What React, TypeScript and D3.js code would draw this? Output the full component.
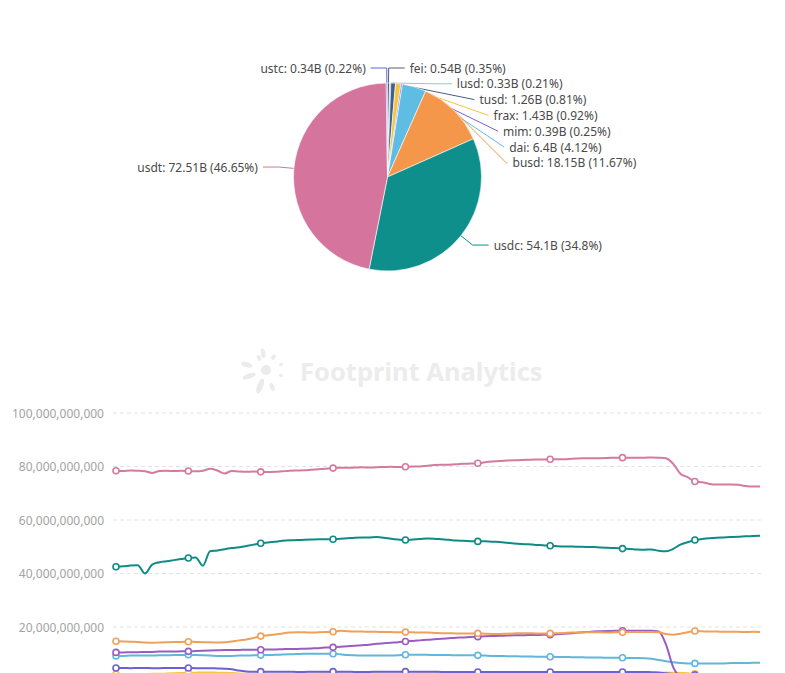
import React from 'react'
import * as d3 from 'd3'

// pie: share of each stablecoin (billions), in drawing order from 12 o'clock
const pieNames = ['fei', 'lusd', 'tusd', 'frax', 'mim', 'dai', 'busd', 'usdc', 'usdt', 'ustc']
const pieValues = [0.54, 0.33, 1.26, 1.43, 0.39, 6.4, 18.15, 54.1, 72.51, 0.34]
const piePercents = ['0.35', '0.21', '0.81', '0.92', '0.25', '4.12', '11.67', '34.8', '46.65', '0.22']
const pieColors = ['#565c6b', '#9cc3c8', '#41608d', '#f4c542', '#7463d8', '#5fbce3', '#f5974b', '#0f8f8b', '#d5759d', '#5566e0']

// line chart: market cap per day, billions
const usdtLine = [
  78.4, 78.3, 78.5, 78.4, 78.2, 77.6, 78.3, 78.4, 78.3, 78.4,
  78.3, 78.2, 78.4, 79.2, 78.5, 77.4, 78.3, 78.1, 78.0, 78.1,
  78.0, 77.9, 78.0, 78.2, 78.4, 78.5, 78.6, 78.8, 79.0, 79.2,
  79.4, 79.5, 79.5, 79.6, 79.7, 79.6, 79.7, 79.8, 79.9, 79.8,
  79.9, 80.0, 80.0, 80.3, 80.6, 80.7, 80.7, 80.8, 81.0, 81.1,
  81.2, 81.6, 81.9, 82.1, 82.2, 82.3, 82.4, 82.5, 82.6, 82.6,
  82.7, 82.7, 82.7, 82.9, 83.0, 83.1, 83.1, 83.1, 83.2, 83.3,
  83.3, 83.3, 83.3, 83.3, 83.4, 83.3, 83.1, 81.0, 77.3, 76.0,
  74.4, 74.1, 73.5, 73.3, 73.3, 73.3, 73.2, 72.7, 72.5, 72.5,
]
const usdcLine = [
  42.5, 42.7, 43.0, 43.1, 40.0, 43.3, 44.2, 44.6, 45.0, 45.4,
  45.8, 46.0, 42.9, 48.3, 48.6, 49.1, 49.5, 49.8, 50.3, 50.8,
  51.3, 51.6, 51.9, 52.2, 52.4, 52.5, 52.6, 52.7, 52.8, 52.8,
  52.8, 53.0, 53.2, 53.4, 53.5, 53.5, 53.6, 53.4, 53.0, 52.7,
  52.5, 52.7, 52.9, 53.1, 53.0, 52.8, 52.6, 52.3, 52.2, 52.1,
  52.0, 52.1, 51.9, 51.8, 51.5, 51.2, 51.0, 50.9, 50.7, 50.6,
  50.4, 50.2, 50.1, 50.1, 50.0, 49.9, 49.9, 49.7, 49.6, 49.5,
  49.3, 49.2, 49.0, 48.9, 49.0, 48.5, 48.3, 49.2, 50.8, 51.7,
  52.5, 52.9, 53.2, 53.4, 53.5, 53.6, 53.7, 53.9, 54.0, 54.1,
]
const busdLine = [
  14.7, 14.6, 14.5, 14.4, 14.2, 14.1, 14.2, 14.3, 14.4, 14.4,
  14.5, 14.4, 14.3, 14.3, 14.2, 14.3, 14.6, 15.0, 15.3, 15.9,
  16.6, 16.9, 17.2, 17.6, 17.9, 18.0, 18.0, 17.9, 18.0, 18.1,
  18.2, 18.6, 18.4, 18.3, 18.3, 18.2, 18.2, 18.1, 18.1, 18.0,
  18.1, 18.0, 17.9, 17.9, 17.8, 17.7, 17.7, 17.6, 17.6, 17.6,
  17.6, 17.5, 17.4, 17.4, 17.5, 17.6, 17.7, 17.7, 17.6, 17.6,
  17.6, 17.7, 17.8, 17.9, 17.9, 18.0, 18.0, 18.0, 17.9, 18.0,
  18.0, 18.1, 18.1, 18.1, 18.1, 18.0, 17.4, 17.1, 17.5, 18.0,
  18.5, 18.4, 18.3, 18.3, 18.2, 18.2, 18.2, 18.1, 18.2, 18.15,
]
const ustcLine = [
  10.5, 10.5, 10.6, 10.6, 10.7, 10.7, 10.8, 10.8, 10.8, 10.9,
  10.9, 11.0, 11.1, 11.2, 11.3, 11.4, 11.4, 11.4, 11.5, 11.5,
  11.5, 11.6, 11.6, 11.7, 11.8, 11.8, 11.9, 12.0, 12.1, 12.3,
  12.4, 12.6, 12.8, 13.0, 13.2, 13.4, 13.7, 13.9, 14.1, 14.3,
  14.6, 14.8, 15.0, 15.2, 15.4, 15.6, 15.8, 16.0, 16.1, 16.3,
  16.4, 16.5, 16.6, 16.7, 16.8, 16.9, 16.9, 17.0, 17.0, 17.1,
  17.1, 17.3, 17.5, 17.7, 17.9, 18.1, 18.3, 18.4, 18.5, 18.6,
  18.6, 18.6, 18.6, 18.6, 18.6, 18.3, 13.5, 5.0, 1.5, 0.8,
  0.6, 0.5, 0.45, 0.4, 0.4, 0.38, 0.36, 0.35, 0.34, 0.34,
]
const daiLine = [
  9.2, 9.2, 9.3, 9.3, 9.3, 9.3, 9.4, 9.4, 9.5, 9.5,
  9.6, 9.5, 9.4, 9.3, 9.2, 9.2, 9.2, 9.3, 9.3, 9.4,
  9.5, 9.5, 9.6, 9.7, 9.8, 9.9, 10.0, 10.0, 10.0, 10.0,
  10.0, 9.8, 9.5, 9.4, 9.3, 9.3, 9.3, 9.3, 9.3, 9.4,
  9.6, 9.6, 9.6, 9.6, 9.5, 9.5, 9.5, 9.4, 9.4, 9.4,
  9.4, 9.3, 9.2, 9.2, 9.1, 9.1, 9.0, 9.0, 8.9, 8.9,
  8.9, 8.8, 8.8, 8.7, 8.7, 8.6, 8.6, 8.6, 8.5, 8.5,
  8.5, 8.4, 8.4, 8.3, 8.1, 7.7, 7.2, 6.8, 6.5, 6.4,
  6.4, 6.4, 6.4, 6.4, 6.4, 6.5, 6.5, 6.5, 6.6, 6.6,
]
const mimLine = [
  4.7, 4.7, 4.6, 4.7, 4.7, 4.6, 4.6, 4.7, 4.7, 4.7,
  4.7, 4.6, 4.6, 4.6, 4.5, 4.4, 4.2, 3.7, 3.4, 3.3,
  3.3, 3.3, 3.3, 3.3, 3.3, 3.2, 3.2, 3.3, 3.3, 3.3,
  3.3, 3.3, 3.3, 3.2, 3.2, 3.2, 3.3, 3.3, 3.3, 3.3,
  3.3, 3.3, 3.3, 3.3, 3.3, 3.2, 3.2, 3.2, 3.2, 3.2,
  3.2, 3.2, 3.2, 3.2, 3.2, 3.2, 3.2, 3.2, 3.2, 3.2,
  3.2, 3.2, 3.2, 3.2, 3.2, 3.2, 3.2, 3.2, 3.2, 3.2,
  3.2, 3.2, 3.2, 3.2, 3.1, 3.0, 2.7, 2.4, 2.3, 2.2,
  2.1, 2.0, 1.9, 1.8, 1.7, 1.6, 1.5, 1.4, 1.3, 1.2,
]
const fraxLine = [
  2.4, 2.4, 2.4, 2.4, 2.4, 2.5, 2.5, 2.6, 2.7, 2.8,
  2.9, 2.9, 3.0, 3.0, 2.9, 2.9, 2.8, 2.6, 2.5, 2.5,
  2.5, 2.5, 2.5, 2.5, 2.5, 2.6, 2.6, 2.6, 2.7, 2.7,
  2.7, 2.6, 2.6, 2.6, 2.7, 2.7, 2.7, 2.6, 2.6, 2.6,
  2.6, 2.6, 2.7, 2.7, 2.7, 2.7, 2.7, 2.7, 2.7, 2.7,
  2.7, 2.7, 2.7, 2.7, 2.7, 2.7, 2.7, 2.7, 2.7, 2.7,
  2.7, 2.7, 2.7, 2.7, 2.7, 2.7, 2.7, 2.7, 2.7, 2.7,
  2.7, 2.7, 2.7, 2.8, 2.8, 2.9, 3.0, 2.9, 2.8, 2.7,
  2.5, 2.3, 2.1, 2.0, 1.8, 1.7, 1.6, 1.5, 1.45, 1.43,
]

const lineSeries = [
  { name: 'frax', color: '#f3c545', values: fraxLine },
  { name: 'mim', color: '#6f5fd6', values: mimLine },
  { name: 'dai', color: '#62b6da', values: daiLine },
  { name: 'ustc', color: '#9b5cc2', values: ustcLine },
  { name: 'busd', color: '#f0a058', values: busdLine },
  { name: 'usdc', color: '#0f8b85', values: usdcLine },
  { name: 'usdt', color: '#d57a9f', values: usdtLine },
]
const yTicks = [20, 40, 60, 80, 100]

const W = 785
const H = 673
const FONT = '"Noto Sans", "DejaVu Sans", sans-serif'

const cx = 387.5
const cy = 177
const R = 94

type Pt = [number, number]

// keep the first leg of a guide line from cutting back into the pie
function straightenGuide(pts: Pt[], normal: Pt) {
  const [p0, p1, p2] = pts
  const d1x = p1[0] - p0[0]
  const d1y = p1[1] - p0[1]
  const l1 = Math.hypot(d1x, d1y)
  const d2x = p2[0] - p1[0]
  const d2y = p2[1] - p1[1]
  const l2 = Math.hypot(d2x, d2y)
  if (l1 < 1e-3 || l2 < 1e-3) return pts
  const u2: Pt = [d2x / l2, d2y / l2]
  const cosSurf = (d1x * normal[0] + d1y * normal[1]) / l1
  if (cosSurf >= 0) return pts
  // projection of p0 on the line p1-p2
  const t0 = (p0[0] - p1[0]) * u2[0] + (p0[1] - p1[1]) * u2[1]
  const proj: Pt = [p1[0] + u2[0] * t0, p1[1] + u2[1] * t0]
  const dist = Math.hypot(p0[0] - proj[0], p0[1] - proj[1])
  const ang2 = Math.acos(u2[0] * normal[0] + u2[1] * normal[1])
  let np: Pt
  if (ang2 >= Math.PI / 2) np = p2
  else {
    const shift = dist / Math.tan(Math.PI / 2 - ang2)
    const c: Pt = [proj[0] + u2[0] * shift, proj[1] + u2[1] * shift]
    const t = (c[0] - p1[0]) / (p2[0] - p1[0])
    np = t < 0 ? p1 : t > 1 ? p2 : c
  }
  return [p0, np, p2]
}

function PieBlock() {
  const pieGen = d3.pie<number>().sort(null).value((d) => d)
  const arcs = pieGen(pieValues)
  const arcGen = d3.arc<d3.PieArcDatum<number>>().innerRadius(0).outerRadius(R)

  const len1 = 15
  const len2 = 16
  const lineH = 15.8
  const labels = arcs.map((a, i) => {
    const mid = (a.startAngle + a.endAngle) / 2
    const sx = Math.sin(mid)
    const cyv = -Math.cos(mid)
    const p0: Pt = [cx + R * sx, cy + R * cyv]
    const p1: Pt = [cx + (R + len1) * sx, cy + (R + len1) * cyv]
    return { i, p0, p1, normal: [sx, cyv] as Pt, y0: p1[1], y: p1[1], right: p1[0] >= cx }
  })
  for (const side of [true, false]) {
    const group = labels.filter((l) => l.right === side).sort((a, b) => a.y0 - b.y0)
    let prev = -Infinity
    group.forEach((l) => {
      l.y = Math.max(l.y0, prev + lineH)
      prev = l.y
    })
  }

  const placed = labels.map((l) => {
    const dir = l.right ? 1 : -1
    let ex = l.p1[0]
    if (l.y - l.y0 > 0.5) {
      const dy = l.y - cy
      const rr = R + len1 - 4
      ex = cx + dir * Math.sqrt(Math.max(0, rr * rr - dy * dy))
    }
    const ex2 = ex + dir * len2
    const pts = straightenGuide([l.p0, [ex, l.y], [ex2, l.y]], l.normal)
    return { ...l, dir, ex2, pts }
  })

  return (
    <g>
      {placed.map((l) => (
        <polyline
          key={'g' + l.i}
          points={l.pts.map((p) => p.join(',')).join(' ')}
          fill="none"
          stroke={pieColors[l.i]}
          strokeWidth={1}
        />
      ))}
      <g transform={`translate(${cx},${cy})`}>
        {arcs.map((a, i) => (
          <path key={i} d={arcGen(a) || ''} fill={pieColors[i]} stroke="#fff" strokeWidth={0.6} />
        ))}
      </g>
      {placed.map((l) => (
        <text
          key={'t' + l.i}
          x={l.ex2 + l.dir * 5}
          y={l.y}
          dominantBaseline="central"
          textAnchor={l.right ? 'start' : 'end'}
          fontSize={12}
          fill="#4a4a4a"
          fontFamily={FONT}
        >
          {`${pieNames[l.i]}: ${pieValues[l.i]}B (${piePercents[l.i]}%)`}
        </text>
      ))}
    </g>
  )
}

function Watermark() {
  const lx = 266
  const ly = 370
  const petals = [
    { a: -100, d: 17, rx: 5, ry: 2.2 },
    { a: -60, d: 15, rx: 3, ry: 2 },
    { a: -20, d: 16, rx: 2, ry: 1.6 },
    { a: 20, d: 16, rx: 2, ry: 1.6 },
    { a: 70, d: 18, rx: 4, ry: 2.2 },
    { a: 110, d: 17, rx: 8, ry: 3 },
    { a: 160, d: 18, rx: 7, ry: 2.6 },
    { a: 195, d: 20, rx: 6, ry: 2.6 },
    { a: 240, d: 14, rx: 3, ry: 2 },
  ]
  return (
    <g fill="#ebebeb">
      <circle cx={lx} cy={ly} r={5} />
      {petals.map((p, i) => {
        const rad = (p.a * Math.PI) / 180
        const px = lx + p.d * Math.cos(rad)
        const py = ly + p.d * Math.sin(rad)
        return <ellipse key={i} cx={px} cy={py} rx={p.rx} ry={p.ry} transform={`rotate(${p.a} ${px} ${py})`} />
      })}
      <text x={300} y={381} fontSize={25.5} fontWeight="bold" fontFamily={FONT} fill="#ececec">
        Footprint Analytics
      </text>
    </g>
  )
}

function LineBlock() {
  const N = usdtLine.length
  const x = d3.scaleLinear().domain([0, N - 1]).range([116, 760])
  const y = d3.scaleLinear().domain([0, 100]).range([680.5, 413])
  const line = d3
    .line<number>()
    .x((_, i) => x(i))
    .y((d) => y(d))
    .curve(d3.curveMonotoneX)
  const fmt = d3.format(',')
  const markIdx = d3.range(0, N - 1, 10)

  return (
    <g>
      {yTicks.map((t) => (
        <g key={t}>
          <line x1={113} x2={761} y1={y(t)} y2={y(t)} stroke="#e3e3e3" strokeDasharray="4 3" />
          <text
            x={104}
            y={y(t)}
            textAnchor="end"
            dominantBaseline="central"
            fontSize={12}
            fill="#a3a3a3"
            fontFamily={FONT}
          >
            {fmt(t * 1e9)}
          </text>
        </g>
      ))}
      {lineSeries.map((s) => (
        <g key={s.name}>
          <path d={line(s.values) || ''} fill="none" stroke={s.color} strokeWidth={2} strokeLinejoin="round" />
          {markIdx.map((i) => (
            <circle key={i} cx={x(i)} cy={y(s.values[i])} r={3} fill="#fff" stroke={s.color} strokeWidth={1.6} />
          ))}
        </g>
      ))}
    </g>
  )
}

export default function App() {
  return (
    <svg
      width={W}
      height={H}
      style={{ position: 'absolute', left: 0, top: 0, background: '#fff' }}
    >
      <rect width={W} height={H} fill="#fff" />
      <PieBlock />
      <Watermark />
      <LineBlock />
    </svg>
  )
}
